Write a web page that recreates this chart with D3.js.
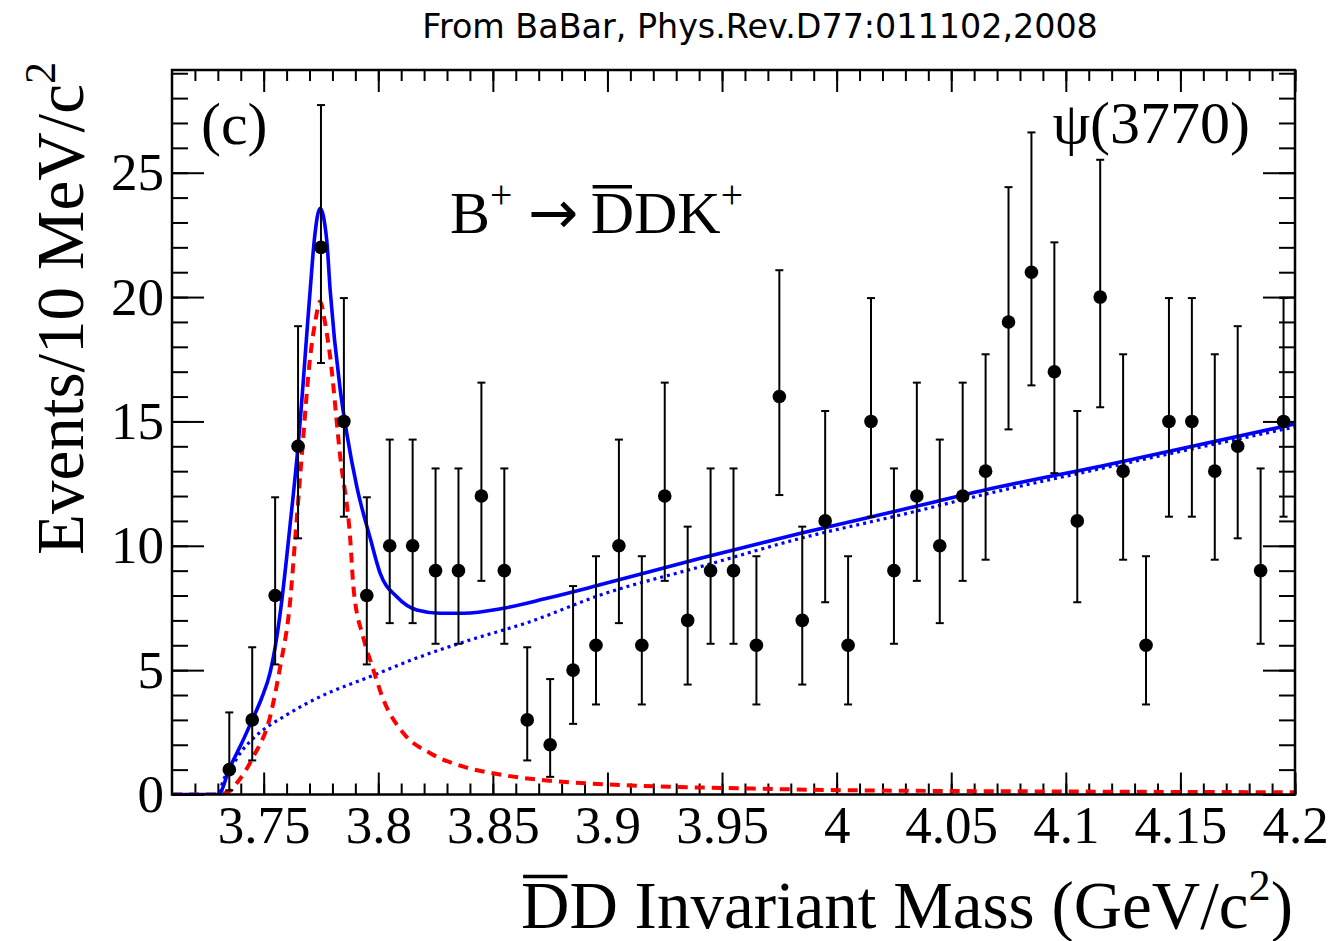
<!DOCTYPE html>
<html>
<head>
<meta charset="utf-8">
<script src="https://cdn.jsdelivr.net/npm/d3@7"></script>
<style>
body{margin:0;background:#fff;}
svg{display:block;}
</style>
</head>
<body>
<svg width="1335" height="941"></svg>
<script>
// bin centres of the 10 MeV bins (GeV/c^2)
var binCenters = [3.735, 3.745, 3.755, 3.765, 3.775, 3.785, 3.795, 3.805, 3.815, 3.825,
                  3.835, 3.845, 3.855, 3.865, 3.875, 3.885, 3.895, 3.905, 3.915, 3.925,
                  3.935, 3.945, 3.955, 3.965, 3.975, 3.985, 3.995, 4.005, 4.015, 4.025,
                  4.035, 4.045, 4.055, 4.065, 4.075, 4.085, 4.095, 4.105, 4.115, 4.125,
                  4.135, 4.145, 4.155, 4.165, 4.175, 4.185, 4.195];
// events per bin
var counts = [1, 3, 8, 14, 22, 15, 8, 10, 10, 9,
              9, 12, 9, 3, 2, 5, 6, 10, 6, 12,
              7, 9, 9, 6, 16, 7, 11, 6, 15, 9,
              12, 10, 12, 13, 19, 21, 17, 11, 20, 13,
              6, 15, 15, 13, 14, 9, 15];
// lower and upper ends of the error bars
var errLow = [0.17, 1.37, 5.23, 10.30, 17.35, 11.17, 5.23, 6.89, 6.89, 6.06,
              6.06, 8.59, 6.06, 1.37, 0.71, 2.84, 3.62, 6.89, 3.62, 8.59,
              4.42, 6.06, 6.06, 3.62, 12.04, 4.42, 7.73, 3.62, 11.17, 6.06,
              8.59, 6.89, 8.59, 9.44, 14.68, 16.45, 12.92, 7.73, 15.57, 9.44,
              3.62, 11.17, 11.17, 9.44, 10.30, 6.06, 11.17];
var errHigh = [3.30, 5.92, 11.95, 18.83, 27.72, 19.96, 11.95, 14.27, 14.27, 13.11,
               13.11, 16.56, 13.11, 5.92, 4.64, 8.38, 9.58, 14.27, 9.58, 16.56,
               10.77, 13.11, 13.11, 9.58, 21.08, 10.77, 15.42, 9.58, 19.96, 13.11,
               16.56, 14.27, 16.56, 17.70, 24.42, 26.62, 22.20, 15.42, 25.52, 17.70,
               9.58, 19.96, 19.96, 17.70, 18.83, 13.11, 19.96];

// fit curves
var totalX = [3.71, 3.7302, 3.7353, 3.7404, 3.745, 3.749, 3.7528, 3.7555, 3.7575, 3.7616,
              3.765, 3.7703, 3.7721, 3.7746, 3.7775, 3.779, 3.7834, 3.7863, 3.7907, 3.7965,
              3.8008, 3.8081, 3.8168, 3.827, 3.8372, 3.8547, 3.8736, 3.8955, 3.9406, 3.9843,
              4.0279, 4.0716, 4.1152, 4.2];
var totalY = [0, 0, 1.1, 2.06, 3.0, 3.85, 4.9, 6.2, 7.5, 10.9,
              14.0, 20.29, 22.3, 23.57, 22.3, 20.29, 16.27, 14.5, 12.35, 10.3,
              8.9, 7.95, 7.42, 7.29, 7.29, 7.49, 7.89, 8.4, 9.5, 10.5,
              11.44, 12.38, 13.2, 14.9];
var signalX = [3.71, 3.7302, 3.7353, 3.7382, 3.7455, 3.7528, 3.7572, 3.7616, 3.7637, 3.7666,
               3.7703, 3.7724, 3.7746, 3.7768, 3.779, 3.7834, 3.7878, 3.7892, 3.7935, 3.7972,
               3.8023, 3.811, 3.8227, 3.8372, 3.8547, 3.8764, 3.8983, 3.9275, 3.9566, 3.997,
               4.1, 4.2];
var signalY = [0, 0, 0.15, 0.45, 1.52, 3.13, 5.14, 7.82, 10.23, 13.58,
               17.6, 18.95, 19.82, 18.95, 17.6, 13.58, 10.23, 8.3, 6.3, 5.2,
               3.8, 2.46, 1.66, 1.12, 0.78, 0.54, 0.41, 0.31, 0.25, 0.18,
               0.12, 0.09];
var bkgX = [3.71, 3.7302, 3.7325, 3.7353, 3.7404, 3.7455, 3.76, 3.7746, 3.7965, 3.8183,
            3.84, 3.8663, 3.8969, 3.9406, 3.9843, 4.0279, 4.0716, 4.1152, 4.2];
var bkgY = [0, 0, 0.6, 1.0, 1.75, 2.26, 3.2, 3.93, 4.74, 5.54,
            6.21, 6.95, 8.02, 9.16, 10.3, 11.24, 12.22, 13.1, 14.78];

// tick values and labels
var xMajorTicks = [3.75, 3.8, 3.85, 3.9, 3.95, 4.0, 4.05, 4.1, 4.15, 4.2];
var xTickLabels = ["3.75", "3.8", "3.85", "3.9", "3.95", "4", "4.05", "4.1", "4.15", "4.2"];
var yMajorTicks = [0, 5, 10, 15, 20, 25];
var yTickLabels = ["0", "5", "10", "15", "20", "25"];

var serif = '"Liberation Serif", "Times New Roman", serif';
var svg = d3.select('svg');

// plot frame edges in pixels
var plotL = 172, plotR = 1295, plotT = 70, plotB = 794.5;

var scaleX = d3.scaleLinear().domain([3.71, 4.2]).range([plotL, plotR]);
var scaleY = d3.scaleLinear().domain([0, 29.13]).range([plotB, plotT]);

var xMinor = d3.range(372, 421).map(function(d){ return d / 100; });
var yMinor = d3.range(0, 30);

//helper to style an axis group like ROOT (ticks inside, no domain line)
function styleAxis(g){
    g.select('.domain').remove();
    g.selectAll('.tick line').attr('stroke', '#000').attr('stroke-width', 2);
    g.attr('font-family', serif).attr('font-size', 53);
    g.selectAll('.tick text').attr('fill', '#000');
}

// bottom axis
svg.append('g').attr('transform', 'translate(0,' + plotB + ')')
    .call(d3.axisBottom(scaleX).tickValues(xMinor).tickFormat('').tickSize(-11))
    .call(styleAxis);
svg.append('g').attr('transform', 'translate(0,' + plotB + ')')
    .call(d3.axisBottom(scaleX).tickValues(xMajorTicks)
        .tickFormat(function(d, i){ return xTickLabels[i]; })
        .tickSize(-22).tickPadding(11))
    .call(styleAxis);
// top axis
svg.append('g').attr('transform', 'translate(0,' + plotT + ')')
    .call(d3.axisTop(scaleX).tickValues(xMinor).tickFormat('').tickSize(-11))
    .call(styleAxis);
svg.append('g').attr('transform', 'translate(0,' + plotT + ')')
    .call(d3.axisTop(scaleX).tickValues(xMajorTicks).tickFormat('').tickSize(-22))
    .call(styleAxis);
// left axis
svg.append('g').attr('transform', 'translate(' + plotL + ',0)')
    .call(d3.axisLeft(scaleY).tickValues(yMinor).tickFormat('').tickSize(-16))
    .call(styleAxis);
svg.append('g').attr('transform', 'translate(' + plotL + ',0)')
    .call(d3.axisLeft(scaleY).tickValues(yMajorTicks)
        .tickFormat(function(d, i){ return yTickLabels[i]; })
        .tickSize(-32).tickPadding(8))
    .call(styleAxis);
// right axis
svg.append('g').attr('transform', 'translate(' + plotR + ',0)')
    .call(d3.axisRight(scaleY).tickValues(yMinor).tickFormat('').tickSize(-16))
    .call(styleAxis);
svg.append('g').attr('transform', 'translate(' + plotR + ',0)')
    .call(d3.axisRight(scaleY).tickValues(yMajorTicks).tickFormat('').tickSize(-32))
    .call(styleAxis);

// clip the curves to the frame
svg.append('clipPath').attr('id', 'plotClip')
    .append('rect')
    .attr('x', plotL).attr('y', plotT)
    .attr('width', plotR - plotL).attr('height', plotB - plotT);

function curvePoints(xs, ys){
    return xs.map(function(x, i){ return [x, ys[i]]; });
}
var line = d3.line()
    .x(function(d){ return scaleX(d[0]); })
    .y(function(d){ return scaleY(d[1]); })
    .curve(d3.curveMonotoneX);

var curves = svg.append('g').attr('clip-path', 'url(#plotClip)');
curves.append('path')
    .attr('d', line(curvePoints(bkgX, bkgY)))
    .attr('fill', 'none').attr('stroke', '#0000ff')
    .attr('stroke-width', 3.2).attr('stroke-dasharray', '3,4');
curves.append('path')
    .attr('d', line(curvePoints(signalX, signalY)))
    .attr('fill', 'none').attr('stroke', '#ff0000')
    .attr('stroke-width', 4).attr('stroke-dasharray', '10,7');
curves.append('path')
    .attr('d', line(curvePoints(totalX, totalY)))
    .attr('fill', 'none').attr('stroke', '#0000ff')
    .attr('stroke-width', 3.6);

// data points with error bars
var pts = svg.append('g').selectAll('g')
    .data(binCenters)
    .enter()
    .append('g');
pts.append('line')
    .attr('x1', function(d){ return scaleX(d); })
    .attr('x2', function(d){ return scaleX(d); })
    .attr('y1', function(d, i){ return scaleY(errLow[i]); })
    .attr('y2', function(d, i){ return scaleY(errHigh[i]); })
    .attr('stroke', '#000').attr('stroke-width', 2);
pts.append('line')
    .attr('x1', function(d){ return scaleX(d) - 4; })
    .attr('x2', function(d){ return scaleX(d) + 4; })
    .attr('y1', function(d, i){ return scaleY(errLow[i]); })
    .attr('y2', function(d, i){ return scaleY(errLow[i]); })
    .attr('stroke', '#000').attr('stroke-width', 2);
pts.append('line')
    .attr('x1', function(d){ return scaleX(d) - 4; })
    .attr('x2', function(d){ return scaleX(d) + 4; })
    .attr('y1', function(d, i){ return scaleY(errHigh[i]); })
    .attr('y2', function(d, i){ return scaleY(errHigh[i]); })
    .attr('stroke', '#000').attr('stroke-width', 2);
pts.append('circle')
    .attr('cx', function(d){ return scaleX(d); })
    .attr('cy', function(d, i){ return scaleY(counts[i]); })
    .attr('r', 6.8)
    .attr('fill', '#000');

// frame
svg.append('rect')
    .attr('x', plotL).attr('y', plotT)
    .attr('width', plotR - plotL).attr('height', plotB - plotT)
    .attr('fill', 'none').attr('stroke', '#000').attr('stroke-width', 2.5);

// text with plain and superscript pieces
function richText(parent, parts, size){
    var t = parent.append('text').attr('font-family', serif).attr('font-size', size).attr('fill', '#000');
    var shift = 0;
    parts.forEach(function(p){
        var s = t.append('tspan').text(p.t);
        if(p.font) s.attr('font-family', p.font);
        if(p.dx) s.attr('dx', p.dx);
        if(p.sup){
            s.attr('font-size', size * 0.66).attr('dy', -size * 0.42 - shift);
            shift = -size * 0.42;
        } else {
            s.attr('dy', -shift);
            shift = 0;
        }
    });
    return t;
}
//draw a bar over character number idx of a text element
function overline(t, idx, size){
    var e = t.node().getExtentOfChar(idx);
    var baseY = +t.attr('y');
    svg.append('line')
        .attr('x1', e.x + 2).attr('x2', e.x + e.width - 2)
        .attr('y1', baseY - size * 0.77).attr('y2', baseY - size * 0.77)
        .attr('stroke', '#000').attr('stroke-width', 3.5);
}

// header line
var head = svg.append('text')
    .text('From BaBar, Phys.Rev.D77:011102,2008')
    .attr('x', 760).attr('y', 38)
    .attr('text-anchor', 'middle')
    .attr('font-family', '"DejaVu Sans", sans-serif')
    .attr('font-size', 28)
    .attr('fill', '#000');
var headLen = head.node().getComputedTextLength();
head.attr('font-size', 28 * 676 / headLen);

// panel label and annotations
svg.append('text').text('(c)')
    .attr('x', 201).attr('y', 144)
    .attr('font-family', serif).attr('font-size', 60).attr('fill', '#000');

svg.append('text').text('\u03c8(3770)')
    .attr('x', 1250).attr('y', 143)
    .attr('text-anchor', 'end')
    .attr('font-family', serif).attr('font-size', 60).attr('fill', '#000');

var decay = richText(svg, [{t: 'B'}, {t: '+', sup: true},
                           {t: '\u2192', font: '"DejaVu Sans", sans-serif', dx: 16},
                           {t: 'DDK', dx: 12}, {t: '+', sup: true}], 60)
    .attr('x', 450).attr('y', 233);
overline(decay, 3, 60);

// axis titles
var xTitle = richText(svg, [{t: 'DD Invariant Mass (GeV/c'}, {t: '2', sup: true}, {t: ')'}], 67)
    .attr('x', 1293).attr('y', 928)
    .attr('text-anchor', 'end');
overline(xTitle, 0, 67);

richText(svg, [{t: 'Events/10 MeV/c'}, {t: '2', sup: true}], 67)
    .attr('x', -62).attr('y', 83)
    .attr('text-anchor', 'end')
    .attr('transform', 'rotate(-90)');
</script>
</body>
</html>
